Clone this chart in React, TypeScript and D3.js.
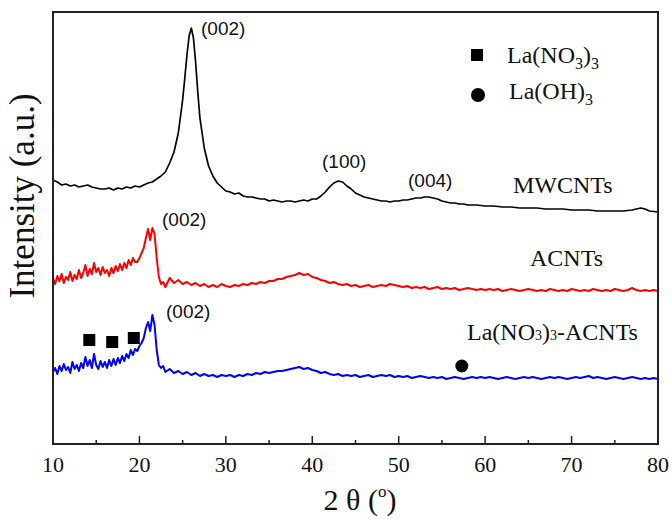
import React from "react";
import * as d3 from "d3";

// 2θ scan grids (degrees)
const scanFine = d3.range(10, 23.125, 0.25);
const scanCoarse = d3.range(23.5, 80.25, 0.5);

// MWCNTs pattern: [2θ, intensity]
const mwcnts: [number, number][] = [
  [10,320],[10.5,318],[11,315],[11.5,316],[12,314],[12.5,315],[13,313],[13.5,314],[14,315],[14.5,313],
  [15,312],[15.5,311],[16,311],[16.5,312],[17,310],[17.5,312],[18,311],[18.5,313],[19,312],[19.5,314],
  [20,313],[20.5,315],[21,317],[21.5,318],[22,321],[22.5,324],[23,328],[23.5,337],[24,348],[24.5,367],
  [25,400],[25.25,422],[25.5,445],[25.75,464],[26,472],[26.25,462],[26.5,438],[26.75,408],[27,382],[27.5,352],
  [28,334],[28.5,324],[29,317],[29.5,313],[30,309],[30.5,308],[31,306],[31.5,307],[32,304],[32.5,303],
  [33,303],[33.5,302],[34,301],[34.5,301],[35,299],[35.5,300],[36,299],[36.5,298],[37,299],[37.5,299],
  [38,298],[38.5,299],[39,300],[39.5,299],[40,301],[40.5,301],[41,304],[41.5,308],[42,313],[42.5,317],
  [43,319],[43.5,318],[44,314],[44.5,311],[45,307],[45.5,305],[46,303],[46.5,302],[47,301],[47.5,300],
  [48,299],[48.5,299],[49,298],[49.5,299],[50,299],[50.5,300],[51,300],[51.5,301],[52,302],[52.5,302],
  [53,303],[53.5,303],[54,302],[54.5,301],[55,299],[55.5,298],[56,297],[56.5,297],[57,296],[57.5,296],
  [58,295],[59,295],[60,294],[61,294],[62,293],[63,293],[64,292],[65,292],[66,292],[67,291],
  [68,291],[69,291],[70,290],[71,290],[72,290],[73,289],[74,289],[75,289],[76,289],[77,290],
  [77.5,291],[78,292],[78.5,291],[79,289],[80,288],
];

// ACNTs pattern
const acntsFine = [
  222,216,224,219,226,217,223,220,228,219,
  225,221,230,222,227,235,224,231,226,237,
  228,232,225,233,227,230,224,232,227,234,
  229,236,230,237,232,240,235,242,238,238,
  242,247,252,262,271,260,272,266,242,223,
  216,218,213,
];
const acntsCoarse = [
  222,217,220,216,218,215,217,214,216,213,
  215,213,216,214,213,215,214,216,215,217,
  216,218,217,219,219,221,221,223,224,225,
  227,225,226,223,222,220,219,217,218,216,
  215,216,214,215,213,214,215,213,214,215,
  214,216,215,214,213,214,212,213,212,213,
  211,212,213,211,212,211,212,210,211,212,
  211,210,211,210,211,210,211,209,210,211,
  210,209,210,211,210,209,210,209,211,210,
  209,210,209,211,210,209,210,209,211,210,
  209,210,209,211,210,209,210,212,210,209,
  210,209,210,209,
];

// La(NO3)3-ACNTs pattern
const laFine = [
  128,132,126,134,129,136,130,133,127,138,
  131,135,129,137,132,143,134,140,132,146,
  135,131,139,133,138,132,140,134,141,135,
  142,137,144,139,146,142,150,145,151,149,
  154,157,162,172,178,169,185,175,150,135,
  132,134,128,
];
const laCoarse = [
  131,127,129,126,128,125,127,124,126,124,
  125,123,125,124,125,123,125,124,126,125,
  127,126,128,127,128,129,129,130,131,132,
  133,131,132,130,129,127,128,126,125,126,
  124,125,124,125,123,124,125,123,124,125,
  124,125,123,124,123,124,122,123,124,123,
  122,123,122,123,121,122,123,122,121,122,
  123,122,123,122,123,122,121,122,123,122,
  121,122,123,122,123,122,121,122,123,122,
  123,122,121,122,123,122,123,124,122,123,
  122,121,122,123,122,121,122,123,122,121,
  122,121,122,121,
];

// phase markers
const nitrateMarks: [number, number][] = [[14.2,160],[16.85,158],[19.35,162]];
const hydroxideMarks: [number, number][] = [[57.3,134]];

const xTicksMajor = [10,20,30,40,50,60,70,80];
const xTicksMinor = [15,25,35,45,55,65,75];

const zip = (xs: number[], ys: number[]) => xs.slice(0, ys.length).map((x, i) => [x, ys[i]] as [number, number]);

const SERIF = '"Liberation Serif", "Times New Roman", Times, serif';
const SANS = '"Liberation Sans", Arial, Helvetica, sans-serif';

export default function App() {
  const left = 53, right = 658, top = 12, bottom = 444;
  const x = d3.scaleLinear().domain([10, 80]).range([left, right]);
  const y = d3.scaleLinear().domain([56, 488]).range([bottom, top]);
  const line = d3.line<[number, number]>().x(d => x(d[0])).y(d => y(d[1]));

  const acnts = [...zip(scanFine, acntsFine), ...zip(scanCoarse, acntsCoarse)];
  const la = [...zip(scanFine, laFine), ...zip(scanCoarse, laCoarse)];

  return (
    <svg width={672} height={520} style={{ position: "absolute", left: 0, top: 0, background: "#fff" }}>
      <rect x={0} y={0} width={672} height={520} fill="#fff" />
      <path d={line(mwcnts) || ""} fill="none" stroke="#000" strokeWidth={1.7} strokeLinejoin="round" />
      <path d={line(acnts) || ""} fill="none" stroke="#ff0000" strokeWidth={2} strokeLinejoin="round" />
      <path d={line(la) || ""} fill="none" stroke="#0000ff" strokeWidth={2} strokeLinejoin="round" />

      {nitrateMarks.map((d, i) => (
        <rect key={i} x={x(d[0]) - 6} y={y(d[1]) - 6} width={12} height={12} fill="#000" />
      ))}
      {hydroxideMarks.map((d, i) => (
        <circle key={i} cx={x(d[0])} cy={y(d[1])} r={6.5} fill="#000" />
      ))}

      {/* frame */}
      <rect x={left} y={top} width={right - left} height={bottom - top} fill="none" stroke="#222" strokeWidth={2} />
      {xTicksMajor.map(t => (
        <line key={"M" + t} x1={x(t)} x2={x(t)} y1={bottom} y2={bottom - 8} stroke="#222" strokeWidth={1.5} />
      ))}
      {xTicksMinor.map(t => (
        <line key={"m" + t} x1={x(t)} x2={x(t)} y1={bottom} y2={bottom - 4} stroke="#222" strokeWidth={1.5} />
      ))}
      {xTicksMajor.map(t => (
        <text key={"l" + t} x={x(t)} y={472} textAnchor="middle" fontFamily={SERIF} fontSize={22} fill="#111">{t}</text>
      ))}

      <text x={360} y={510} textAnchor="middle" fontFamily={SERIF} fontSize={30} fill="#111">
        2 θ (<tspan fontSize={17} dy={-13}>o</tspan><tspan dy={13}>)</tspan>
      </text>
      <text transform="translate(34,196) rotate(-90)" textAnchor="middle" fontFamily={SERIF} fontSize={35} fill="#111">
        Intensity (a.u.)
      </text>

      {/* peak labels */}
      <g fontFamily={SANS} fontSize={19} fill="#111">
        <text x={201} y={35}>(002)</text>
        <text x={162} y={226}>(002)</text>
        <text x={166} y={318}>(002)</text>
        <text x={322} y={168}>(100)</text>
        <text x={408} y={187}>(004)</text>
      </g>

      {/* sample labels */}
      <g fontFamily={SERIF} fontSize={24} fill="#111">
        <text x={513} y={193}>MWCNTs</text>
        <text x={530} y={266}>ACNTs</text>
        <text x={467} y={340}>
          La(NO<tspan fontSize={14}>3</tspan>)<tspan fontSize={14}>3</tspan>-ACNTs
        </text>
      </g>

      {/* legend */}
      <rect x={471} y={49} width={12} height={12} fill="#000" />
      <text x={507} y={63} fontFamily={SERIF} fontSize={24} fill="#111">
        La(NO<tspan fontSize={16} dy={6}>3</tspan><tspan dy={-6}>)</tspan><tspan fontSize={16} dy={6}>3</tspan>
      </text>
      <circle cx={478} cy={95} r={7} fill="#000" />
      <text x={509} y={99} fontFamily={SERIF} fontSize={24} fill="#111">
        La(OH)<tspan fontSize={16} dy={6}>3</tspan>
      </text>
    </svg>
  );
}
